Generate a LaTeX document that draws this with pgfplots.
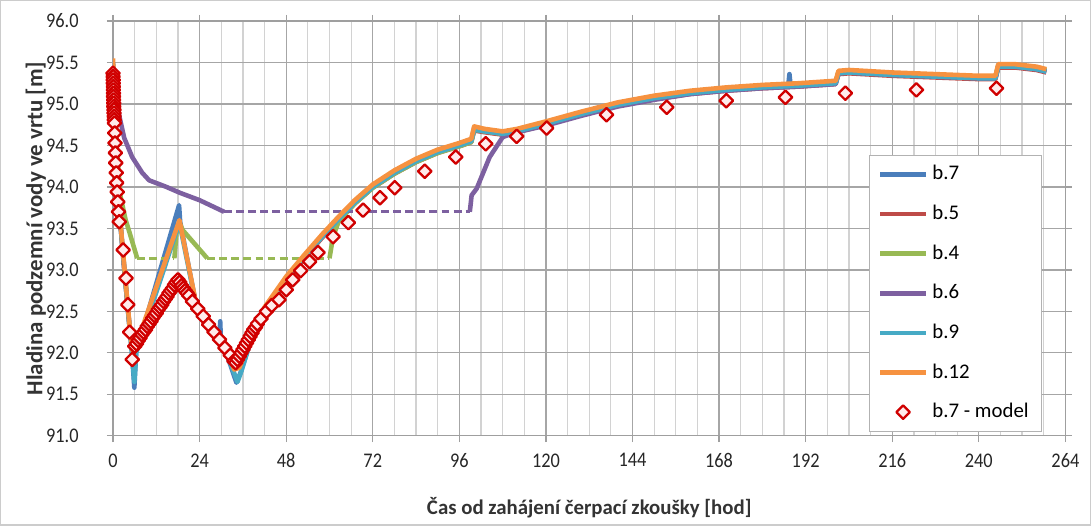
\documentclass[border=0pt]{standalone}
\usepackage{fontspec}
\setmainfont{Carlito}
\newfontfamily\tickfont{Carlito}[FakeStretch=0.88]
\usepackage{pgfplots}
\pgfplotsset{compat=1.18}

\definecolor{cB7}{HTML}{4A7EBB}
\definecolor{cB5}{HTML}{BE4B48}
\definecolor{cB4}{HTML}{98B954}
\definecolor{cB6}{HTML}{7D60A0}
\definecolor{cB9}{HTML}{46AAC5}
\definecolor{cB12}{HTML}{F69240}
\definecolor{cMod}{HTML}{D00000}

\begin{document}
\begin{tikzpicture}
% chart area frame (1091 x 526 px at 0.48 pt/px)
\draw[gray!40, line width=0.6pt] (-54.0pt,-42.9pt) rectangle (469.4pt,209.0pt);
\begin{axis}[
  at={(0pt,0pt)}, anchor=south west,
  scale only axis, width=457.4pt, height=199.2pt,
  xmin=0, xmax=264, ymin=91, ymax=96,
  xtick={0,24,...,264}, minor x tick num=3,
  ytick={91,91.5,...,96},
  grid=both,
  major grid style={gray!70, line width=0.6pt},
  minor grid style={gray!35, line width=0.6pt},
  axis line style={gray!75, line width=0.6pt},
  tick style={gray!75, line width=0.6pt},
  tick align=outside, major tick length=3pt, minor tick length=0pt,
  /pgf/number format/assume math mode=true,
  ticklabel style={font=\tickfont\fontsize{10}{12}\selectfont, text=black!85},
  y tick label style={xshift=-10pt, /pgf/number format/.cd, fixed, fixed zerofill, precision=1},
  x tick label style={yshift=-2pt},
  every axis x label/.style={at={(axis description cs:0.5,-0.174)}, anchor=center},
  every axis y label/.style={at={(axis description cs:-0.081,0.5)}, anchor=center, rotate=90},
  xlabel style={font=\fontsize{10}{12}\selectfont\bfseries, text=black!80},
  ylabel style={font=\fontsize{11}{13}\selectfont\bfseries, text=black!80},
  xlabel={Čas od zahájení čerpací zkoušky [hod]},
  ylabel={Hladina podzemní vody ve vrtu [m]},
  legend style={at={(0.975,0.0096)}, anchor=south east, draw=gray!60, fill=white,
    font=\fontsize{10}{12}\selectfont, row sep=6.6pt, inner xsep=4pt, inner ysep=3pt,
    cells={anchor=west}},
  legend image code/.code={\draw[mark repeat=2, mark phase=2, #1]
    plot coordinates {(0pt,0pt) (11pt,0pt) (22pt,0pt)};},
  every axis plot/.append style={line width=2.2pt, line join=round},
  dsh/.style={dash pattern=on 3.8pt off 2pt, line width=1.6pt},
]

% b.7
\addplot[cB7] coordinates {
(0,95.5)(0.3,95.03)(0.8,94.53)(1.3,94.03)(2,93.58)(3,93.08)(4,92.58)(5.2,92.03)
(5.9,91.58)(6.4,92.0)(18.3,93.78)(18.6,93.58)(23,92.58)(28,92.25)(29.5,92.16)
(29.7,92.38)(29.9,92.15)(31,92.05)(34.2,91.64)(35.5,91.78)(38,92.13)(42,92.53)
(48,92.9)(53,93.16)(58,93.41)(62.5,93.62)(67,93.82)(72,94.01)(78,94.18)(84,94.32)
(90,94.43)(96,94.51)(99.3,94.56)(100.1,94.71)(103,94.68)(108,94.65)(112,94.68)
(120,94.77)(130,94.89)(140,95.0)(150,95.08)(160,95.14)(170,95.18)(180,95.21)
(187.2,95.23)(187.5,95.36)(187.8,95.23)(200.3,95.26)(201.1,95.38)(204,95.39)
(216,95.36)(228,95.34)(240,95.32)(244.6,95.32)(245.4,95.46)(250,95.46)(256,95.43)
(258.7,95.4)};
\addlegendentry{b.7}

% b.5
\addplot[cB5] coordinates {
(0,95.4)(0.5,94.8)(1.5,93.85)(3,93.05)(4.5,92.35)(5.5,92.05)(18,92.9)(34,91.87)
(40,92.33)(44,92.6)(48,92.86)(53,93.14)(58,93.39)(62.5,93.6)(67,93.8)(72,93.99)
(78,94.16)(84,94.3)(90,94.41)(96,94.49)(99.3,94.54)(100.1,94.68)(103,94.66)(108,94.63)
(112,94.66)(120,94.75)(130,94.87)(140,94.98)(150,95.06)(160,95.12)(170,95.16)
(180,95.19)(190,95.21)(200.3,95.24)(201.1,95.36)(204,95.37)(216,95.34)(228,95.32)
(240,95.3)(244.6,95.3)(245.4,95.44)(250,95.44)(256,95.41)(258.7,95.38)};
\addlegendentry{b.5}

% b.4
\addplot[cB4] coordinates {
(0,95.45)(1,94.5)(2,93.9)(3.5,93.6)(4.5,93.46)(6.7,93.14)};
\addlegendentry{b.4}
\addplot[cB4, dsh, forget plot] coordinates {(6.7,93.14)(17,93.14)};
\addplot[cB4, forget plot] coordinates {
(17,93.14)(17.6,93.45)(18.5,93.56)(19.3,93.48)(26.1,93.14)};
\addplot[cB4, dsh, forget plot] coordinates {(26.1,93.14)(60,93.14)};
\addplot[cB4, forget plot] coordinates {
(60,93.14)(61,93.4)(62.5,93.58)(67,93.8)(72,93.99)(78,94.16)(84,94.3)(90,94.41)
(96,94.49)(99.3,94.54)(100.1,94.69)(103,94.67)(108,94.64)(112,94.67)(120,94.76)
(130,94.88)(140,94.99)(150,95.07)(160,95.14)(170,95.18)(180,95.21)(190,95.23)
(200.3,95.26)(201.1,95.39)(204,95.4)(216,95.37)(228,95.35)(240,95.33)(244.6,95.33)
(245.4,95.47)(250,95.47)(256,95.44)(258.7,95.41)};

% b.6
\addplot[cB6] coordinates {
(0,95.3)(1.5,94.9)(3.1,94.59)(5.3,94.36)(8.1,94.17)(10,94.08)(14.8,94.0)(18.5,93.93)
(24,93.84)(30.8,93.7)};
\addlegendentry{b.6}
\addplot[cB6, dsh, forget plot] coordinates {(30.8,93.7)(98.9,93.7)};
\addplot[cB6, forget plot] coordinates {
(98.9,93.7)(99.4,93.9)(100.8,93.98)(104.4,94.36)(108,94.6)(111,94.65)(120,94.74)
(130,94.86)(140,94.97)(150,95.05)(160,95.12)(170,95.16)(180,95.19)(190,95.21)
(200.3,95.24)(201.1,95.37)(204,95.38)(216,95.35)(228,95.33)(240,95.31)(244.6,95.31)
(245.4,95.45)(250,95.45)(256,95.42)(258.7,95.39)};

% b.9
\addplot[cB9] coordinates {
(0,95.48)(0.3,95.02)(0.8,94.52)(1.3,94.02)(2,93.57)(3,93.07)(4,92.57)(5.2,92.02)
(5.9,91.65)(6.4,92.0)(18.4,93.57)(23,92.58)(28,92.25)(31,92.05)(34.5,91.65)
(35.5,91.77)(38,92.12)(42,92.52)(48,92.89)(53,93.15)(58,93.4)(62.5,93.61)
(67,93.81)(72,94.0)(78,94.17)(84,94.31)(90,94.42)(96,94.5)(99.3,94.55)(100.1,94.69)
(103,94.67)(108,94.64)(112,94.67)(120,94.76)(130,94.88)(140,94.99)(150,95.07)
(160,95.13)(170,95.17)(180,95.2)(190,95.22)(200.3,95.25)(201.1,95.37)(204,95.38)
(216,95.35)(228,95.33)(240,95.31)(244.6,95.31)(245.4,95.45)(250,95.45)(256,95.42)
(258.7,95.39)};
\addlegendentry{b.9}

% b.12
\addplot[cB12] coordinates {
(0,95.55)(0.3,95.05)(0.8,94.55)(1.3,94.05)(2,93.6)(3,93.1)(4,92.6)(5.2,92.05)
(5.7,92.0)(18.4,93.6)(23,92.6)(28,92.27)(31,92.07)(33.6,91.8)(35,91.82)
(38,92.15)(42,92.55)(48,92.92)(53,93.18)(58,93.43)(62.5,93.64)(67,93.84)(72,94.03)
(78,94.2)(84,94.34)(90,94.45)(96,94.53)(99.3,94.58)(100.1,94.73)(103,94.7)(108,94.67)
(112,94.7)(120,94.79)(130,94.91)(140,95.02)(150,95.1)(160,95.16)(170,95.2)(180,95.23)
(190,95.25)(200.3,95.28)(201.1,95.4)(204,95.41)(216,95.38)(228,95.36)(240,95.34)
(244.6,95.34)(245.4,95.48)(250,95.48)(256,95.45)(258.7,95.42)};
\addlegendentry{b.12}

% b.7 - model
\addplot[only marks, mark=square*, mark size=2.3pt,
  mark options={rotate=45, draw=cMod, fill=red!8, line width=1.1pt}]
coordinates {
(0,95.37)(0.02,95.33)(0.04,95.29)(0.06,95.25)(0.08,95.21)(0.1,95.17)(0.12,95.13)
(0.14,95.09)(0.16,95.05)(0.18,95.01)(0.21,94.97)(0.24,94.93)(0.27,94.89)(0.3,94.85)
(0.34,94.81)(0.38,94.77)(0.45,94.65)(0.55,94.53)(0.65,94.41)(0.75,94.29)(0.88,94.17)
(1.0,94.05)(1.15,93.94)(1.3,93.82)(1.5,93.7)(1.7,93.58)(2.8,93.24)(3.6,92.9)
(4.1,92.58)(4.6,92.25)(5.3,91.92)
(6.0,92.08)(6.5,92.11)(7.0,92.15)(7.5,92.18)(8.0,92.22)(8.5,92.25)(9.0,92.28)
(9.5,92.32)(10.0,92.35)(10.5,92.38)(11.0,92.42)(11.5,92.45)(12.0,92.48)(12.5,92.52)
(13.0,92.55)(13.5,92.58)(14.0,92.62)(14.5,92.65)(15.0,92.68)(15.5,92.72)(16.0,92.75)
(16.5,92.78)(17.0,92.82)(17.5,92.85)(18.0,92.88)
(18.5,92.85)(19.0,92.81)(19.5,92.78)(20.0,92.75)(20.5,92.72)(21.0,92.69)(22.0,92.62)
(23.5,92.53)(25.0,92.44)(26.5,92.34)(28.0,92.25)(29.5,92.16)(31.0,92.06)(32.5,91.97)
(33.5,91.9)(34.0,91.88)
(34.5,91.92)(35.0,91.96)(35.5,92.0)(36.0,92.04)(36.5,92.08)(37.0,92.12)(37.5,92.16)
(38.0,92.2)(38.5,92.24)(39.0,92.28)(39.5,92.31)(40.0,92.35)(41.0,92.41)(42.5,92.5)
(44.0,92.57)(46.0,92.64)(48.0,92.76)(49.8,92.88)(52.0,92.99)(54.5,93.1)(56.8,93.21)
(61.0,93.4)(65.2,93.57)(69.3,93.72)(74.0,93.87)(78.1,93.99)(86.4,94.19)(95.0,94.36)
(103.3,94.52)(111.9,94.61)(120.2,94.71)(136.8,94.87)(153.5,94.96)(170,95.04)
(186.4,95.08)(203,95.13)(222.7,95.17)(244.9,95.19)};
\addlegendentry{b.7 - model}

\end{axis}
\end{tikzpicture}
\end{document}
